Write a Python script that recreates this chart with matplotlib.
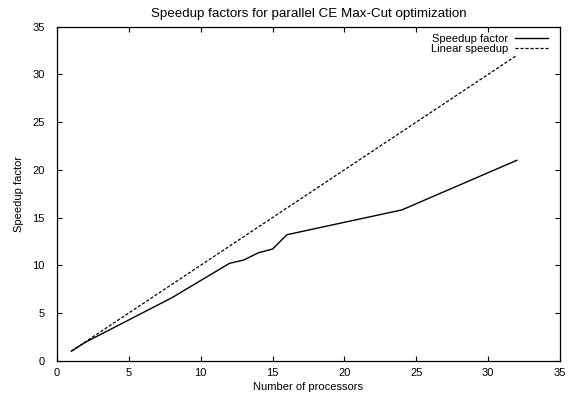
import matplotlib
matplotlib.use('Agg')
import matplotlib.pyplot as plt

processors = [1, 2, 4, 8, 12, 13, 14, 15, 16, 24, 32]
speedup = [1.0, 1.95, 3.5, 6.6, 10.2, 10.55, 11.3, 11.7, 13.2, 15.8, 21.0]
linear = [1, 2, 4, 8, 12, 13, 14, 15, 16, 24, 32]

plt.rcParams['font.family'] = ['Liberation Sans', 'DejaVu Sans']
plt.rcParams['font.size'] = 8

fig = plt.figure(figsize=(5.74, 4.0), dpi=100)
ax = fig.add_axes([0.0993, 0.0983, 0.8763, 0.835])
ax.plot(processors, speedup, color='black', lw=1.0, label='Speedup factor')
ax.plot(processors, linear, color='black', lw=0.9, ls=(0, (2.5, 1.5)),
        label='Linear speedup')
ax.set_xlim(0, 35)
ax.set_ylim(0, 35)
ax.set_xticks(range(0, 36, 5))
ax.set_yticks(range(0, 36, 5))
ax.tick_params(direction='in', top=True, right=True, length=3.5, width=0.8,
               labelsize=8)
ax.tick_params(axis='x', pad=5)
ax.tick_params(axis='y', pad=9)
for s in ax.spines.values():
    s.set_linewidth(0.9)
ax.set_xlabel('Number of processors', labelpad=3)
ax.set_ylabel('Speedup factor', labelpad=6)
ax.set_title('Speedup factors for parallel CE Max-Cut optimization', pad=7)
ax.legend(loc='upper right', bbox_to_anchor=(0.976, 0.977), frameon=False,
          markerfirst=False, handlelength=3.0, borderaxespad=0.0,
          borderpad=0.0, labelspacing=0.0, handletextpad=0.6)
plt.savefig('out.png', dpi=100)
